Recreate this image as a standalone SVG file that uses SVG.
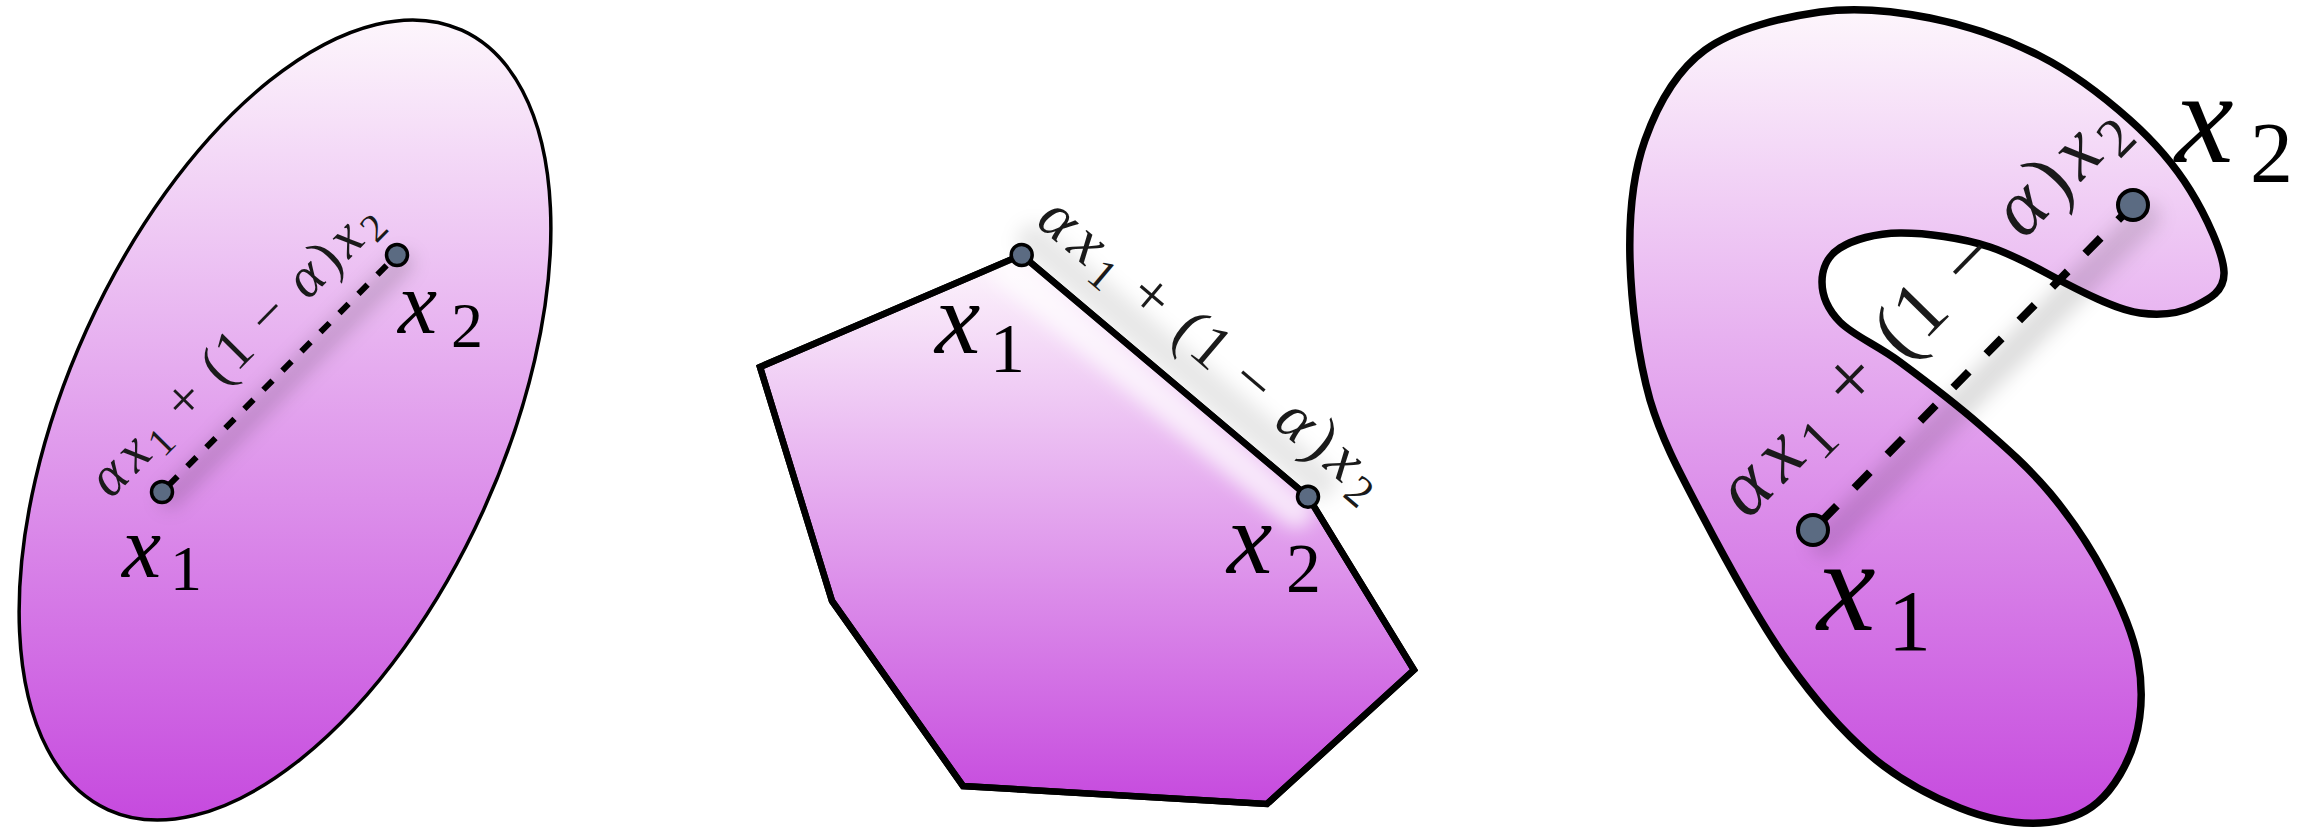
<svg xmlns="http://www.w3.org/2000/svg" width="2301" height="831" viewBox="0 0 2301 831">
<defs>
<linearGradient id="fillGrad" x1="0" y1="0" x2="0" y2="1">
<stop offset="0" stop-color="#fdf6fc"/>
<stop offset="1" stop-color="#c64ade"/>
</linearGradient>
<filter id="soft" x="-40%" y="-40%" width="180%" height="180%"><feGaussianBlur stdDeviation="9"/></filter>
<clipPath id="polyClip"><polygon points="760,367 1021.7,255 1308,496.7 1414,670 1267,804 963,786 832,601"/></clipPath>
<style>
.shape{fill:url(#fillGrad);stroke:#000}
.dot{fill:#5b6b82;stroke:#000}
.dash{stroke:#000;fill:none}
.lbl{font-family:'Liberation Serif','Times New Roman',serif;fill:#000}
.rot{font-family:'Liberation Serif','Times New Roman',serif;fill:#1a1a1a;text-anchor:middle}
.it{font-style:italic}
.shadow{fill:none;stroke:#000;stroke-linecap:round;filter:url(#soft)}
.glow{fill:none;stroke:#fff;stroke-linecap:round;filter:url(#soft)}
</style>
</defs>
<rect width="2301" height="831" fill="#fff"/>

<!-- Panel 1: ellipse -->
<g id="convex-ellipse">
<path class="shape" stroke-width="3.5" d="M461.8,30.2 A218,428 24.4 1 1 108.2,809.8 A218,428 24.4 1 1 461.8,30.2 Z"/>
<line class="shadow" x1="170" y1="498" x2="403" y2="263" stroke-width="22" stroke-opacity="0.15"/>
</g>

<!-- Panel 2: polygon -->
<g id="convex-polygon">
<line class="shadow" x1="1034" y1="241" x2="1320" y2="482" stroke-width="34" stroke-opacity="0.09"/>
<polygon class="shape" stroke-width="6.5" stroke-linejoin="miter" points="760,367 1021.7,255 1308,496.7 1414,670 1267,804 963,786 832,601"/>
<g clip-path="url(#polyClip)">
<line class="glow" x1="1008" y1="270" x2="1296" y2="511" stroke-width="34" stroke-opacity="0.7"/>
</g>
<polygon fill="none" stroke="#000" stroke-width="6.5" points="760,367 1021.7,255 1308,496.7 1414,670 1267,804 963,786 832,601"/>
</g>

<!-- Panel 3: non-convex shape -->
<g id="nonconvex-shape">
<path class="shape" stroke-width="7.5" d="M1820,12 C1857.5,6.7 1893.3,10.7 1930,18 C1966.7,25.3 2006.7,39 2040,56 C2073.3,73 2105,97.7 2130,120 C2155,142.3 2174.3,164.7 2190,190 C2205.7,215.3 2223.2,252.7 2224,272 C2224.8,291.3 2209,299.2 2195,306 C2181,312.8 2161.3,315.8 2140,313 C2118.7,310.2 2090,296 2065,283 C2040,270 2017.8,256.3 1990,247 C1962.2,237.7 1925,232.8 1900,233 C1875,233.2 1853,239.8 1840,248 C1827,256.2 1822,269.7 1822,282 C1822,294.3 1827,308.7 1840,322 C1853,335.3 1876.7,344.8 1900,362 C1923.3,379.2 1955,403.2 1980,425 C2005,446.8 2029.2,468 2050,493 C2070.8,518 2090.3,547.2 2105,575 C2119.7,602.8 2133,632.5 2138,660 C2143,687.5 2141.7,716.3 2135,740 C2128.3,763.7 2113.8,788.2 2098,802 C2082.2,815.8 2063,822 2040,823 C2017,824 1988.3,819.3 1960,808 C1931.7,796.7 1898.3,779.3 1870,755 C1841.7,730.7 1815,700 1788,662 C1761,624 1725,558.7 1702,515 C1679,471.3 1662,440 1650,400 C1638,357.5 1631.2,303.3 1630,260 C1628.8,216.7 1632.5,175 1645,140 C1657.5,105 1675.8,71.3 1705,50 C1734.2,28.7 1782.5,17.3 1820,12 Z"/>
<line class="shadow" x1="1825" y1="542" x2="2145" y2="217" stroke-width="30" stroke-opacity="0.13"/>
</g>

<!-- Connectors: segments between the points -->
<g id="connectors">
<line class="dash" x1="162" y1="492" x2="397" y2="255" stroke-width="6" stroke-dasharray="13 14" stroke-dashoffset="-9"/>
<line class="dash" x1="1813" y1="530" x2="2133" y2="205" stroke-width="8" stroke-dasharray="22 25" stroke-dashoffset="-12"/>
</g>

<!-- Points -->
<g id="points">
<circle class="dot" cx="162" cy="492" r="10.5" stroke-width="3.5"/>
<circle class="dot" cx="397" cy="255" r="10.5" stroke-width="3.5"/>
<circle class="dot" cx="1021.7" cy="255" r="10.5" stroke-width="3.5"/>
<circle class="dot" cx="1308" cy="496.7" r="10.5" stroke-width="3.5"/>
<circle class="dot" cx="1813" cy="530" r="15" stroke-width="4"/>
<circle class="dot" cx="2133" cy="205" r="15" stroke-width="4"/>
</g>

<!-- Labels -->
<g id="labels-p1">
<text class="lbl"><tspan class="it" x="122" y="577" font-size="88">x</tspan><tspan x="170" y="590" font-size="64">1</tspan></text>
<text class="lbl"><tspan class="it" x="398" y="333" font-size="88">x</tspan><tspan x="451" y="347" font-size="64">2</tspan></text>
<g transform="translate(162,492) rotate(-45.24)">
<text class="rot" font-size="57"><tspan class="it" x="-26.7" y="-31">α</tspan><tspan class="it" x="7.6" y="-31">x</tspan><tspan x="35.1" y="-22.5" font-size="40">1</tspan><tspan x="80.9" y="-31">+</tspan><tspan x="126.5" y="-31">(</tspan><tspan x="151.7" y="-31">1</tspan><tspan x="200.4" y="-31">−</tspan><tspan class="it" x="253.1" y="-31">α</tspan><tspan x="282.2" y="-31">)</tspan><tspan class="it" x="309.4" y="-31">x</tspan><tspan x="336.9" y="-22.5" font-size="40">2</tspan></text>
</g>
</g>

<g id="labels-p2">
<text class="lbl"><tspan class="it" x="935" y="353" font-size="102">x</tspan><tspan x="990" y="372" font-size="70">1</tspan></text>
<text class="lbl"><tspan class="it" x="1227" y="573" font-size="102">x</tspan><tspan x="1286" y="592" font-size="70">2</tspan></text>
<g transform="translate(1021.7,255) rotate(40.17)">
<text class="rot" font-size="63"><tspan class="it" x="5.8" y="-32">α</tspan><tspan class="it" x="43.9" y="-32">x</tspan><tspan x="74.5" y="-22.5" font-size="44">1</tspan><tspan x="125.5" y="-32">+</tspan><tspan x="176.3" y="-32">(</tspan><tspan x="204.3" y="-32">1</tspan><tspan x="258.5" y="-32">−</tspan><tspan class="it" x="317.2" y="-32">α</tspan><tspan x="349.6" y="-32">)</tspan><tspan class="it" x="379.9" y="-32">x</tspan><tspan x="410.4" y="-22.5" font-size="44">2</tspan></text>
</g>
</g>

<g id="labels-p3">
<text class="lbl"><tspan class="it" x="1817" y="630" font-size="132">x</tspan><tspan x="1888" y="650" font-size="86">1</tspan></text>
<text class="lbl"><tspan class="it" x="2175" y="162" font-size="132">x</tspan><tspan x="2250" y="182" font-size="86">2</tspan></text>
<g transform="translate(1813,530) rotate(-45.45)">
<text class="rot" font-size="80"><tspan class="it" x="-18" y="-53">α</tspan><tspan class="it" x="30.2" y="-53">x</tspan><tspan x="68.8" y="-41.1" font-size="56">1</tspan><tspan x="133.2" y="-53">+</tspan><tspan x="197.2" y="-53">(</tspan><tspan x="232.5" y="-53">1</tspan><tspan x="301" y="-53">−</tspan><tspan class="it" x="375" y="-53">α</tspan><tspan x="416" y="-53">)</tspan><tspan class="it" x="454.1" y="-53">x</tspan><tspan x="492.7" y="-41.1" font-size="56">2</tspan></text>
</g>
</g>
</svg>
